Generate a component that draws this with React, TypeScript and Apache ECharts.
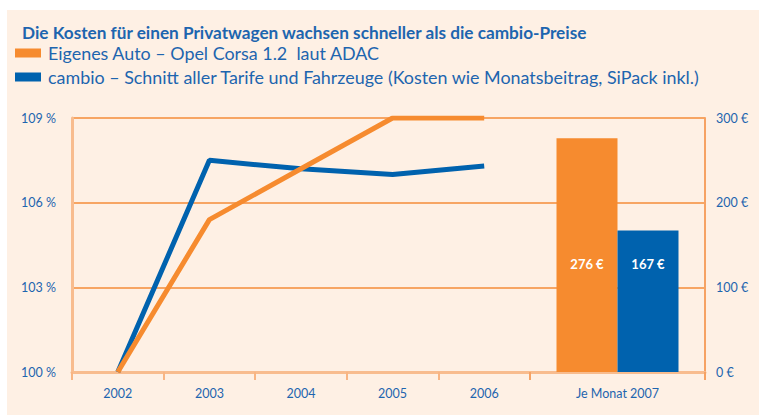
import React, { useEffect, useRef } from "react";
import * as echarts from "echarts";

const years = ["2002", "2003", "2004", "2005", "2006"];
const autoIndex = [100, 105.4, 107.2, 109.0, 109.0];
const cambioIndex = [100, 107.5, 107.2, 107.0, 107.3];
const monthCategory = ["Je Monat 2007"];
const autoMonthly = [276];
const cambioMonthly = [167];

const nameAuto = "Eigenes Auto \u2013 Opel Corsa 1.2  laut ADAC";
const nameCambio = "cambio \u2013 Schnitt aller Tarife und Fahrzeuge (Kosten wie Monatsbeitrag, SiPack inkl.)";

const ORANGE = "#F68B2F";
const BLUE = "#0062AE";
const TEXT = "#1D65AF";
const FONT = "Lato, 'Noto Sans', sans-serif";

export default function App() {
  const ref = useRef<HTMLDivElement>(null);
  useEffect(() => {
    const chart = echarts.init(ref.current!, null, { renderer: "svg" });
    const axisLabel = { color: TEXT, fontSize: 12.5, fontFamily: FONT };
    chart.setOption({
      animation: false,
      backgroundColor: "#FEF0E4",
      title: {
        text: "Die Kosten für einen Privatwagen wachsen schneller als die cambio-Preise",
        left: 15,
        top: 14,
        padding: 0,
        textStyle: { color: TEXT, fontSize: 17.2, fontWeight: "bold", fontFamily: FONT },
      },
      legend: {
        orient: "vertical",
        left: 8,
        top: 34,
        padding: 0,
        icon: "rect",
        itemWidth: 26,
        itemHeight: 9,
        itemGap: 6,
        data: [nameAuto, nameCambio],
        textStyle: { color: TEXT, fontSize: 17.9, lineHeight: 17, fontFamily: FONT, padding: [0, 0, 0, 2] },
      },
      grid: [
        { left: 65, top: 108, width: 458, height: 254 },
        { left: 523, top: 108, width: 175, height: 254 },
      ],
      xAxis: [
        {
          type: "category",
          gridIndex: 0,
          data: years,
          boundaryGap: true,
          axisLine: { lineStyle: { color: "#F8BC8E", width: 3 } },
          axisTick: { show: true, length: 8, interval: 0, lineStyle: { color: "#F8B583", width: 2 } },
          axisLabel: { ...axisLabel, margin: 15 },
        },
        {
          type: "category",
          gridIndex: 1,
          data: monthCategory,
          boundaryGap: true,
          axisLine: { lineStyle: { color: "#F8BC8E", width: 3 } },
          axisTick: { show: true, length: 8, interval: 0, lineStyle: { color: "#F6A263", width: 2 } },
          axisLabel: { ...axisLabel, margin: 15 },
        },
      ],
      yAxis: [
        {
          type: "value",
          gridIndex: 0,
          min: 100,
          max: 109,
          interval: 3,
          axisLine: { show: true, lineStyle: { color: "#F8BC8E", width: 3 } },
          axisTick: { show: false },
          axisLabel: { ...axisLabel, margin: 16, formatter: (v: number) => v + " %" },
          splitLine: { show: true, lineStyle: { color: "#F7A563", width: 2 } },
        },
        {
          type: "value",
          gridIndex: 1,
          position: "right",
          min: 0,
          max: 300,
          interval: 100,
          axisLine: { show: true, lineStyle: { color: "#F6A263", width: 2 } },
          axisTick: { show: false },
          axisLabel: { ...axisLabel, margin: 11, formatter: (v: number) => v + " €" },
          splitLine: { show: true, lineStyle: { color: "#F7A563", width: 2 } },
        },
      ],
      series: [
        {
          name: nameCambio,
          type: "line",
          xAxisIndex: 0,
          yAxisIndex: 0,
          data: cambioIndex,
          symbol: "none",
          color: BLUE,
          lineStyle: { color: BLUE, width: 5 },
          z: 3,
        },
        {
          name: nameAuto,
          type: "line",
          xAxisIndex: 0,
          yAxisIndex: 0,
          data: autoIndex,
          symbol: "none",
          color: ORANGE,
          lineStyle: { color: ORANGE, width: 5 },
          z: 4,
        },
        {
          name: nameAuto,
          type: "bar",
          xAxisIndex: 1,
          yAxisIndex: 1,
          data: autoMonthly,
          color: ORANGE,
          barWidth: 61,
          barGap: "0%",
          label: {
            show: true,
            position: "insideBottom",
            distance: 102,
            color: "#fff",
            fontWeight: "bold",
            fontSize: 13,
            fontFamily: FONT,
            formatter: (p: any) => p.value + " €",
          },
        },
        {
          name: nameCambio,
          type: "bar",
          xAxisIndex: 1,
          yAxisIndex: 1,
          data: cambioMonthly,
          color: BLUE,
          barWidth: 61,
          barGap: "0%",
          label: {
            show: true,
            position: "insideBottom",
            distance: 102,
            color: "#fff",
            fontWeight: "bold",
            fontSize: 13,
            fontFamily: FONT,
            formatter: (p: any) => p.value + " €",
          },
        },
      ],
    });
    return () => chart.dispose();
  }, []);
  return (
    <div
      ref={ref}
      style={{ position: "absolute", left: 7, top: 10, width: 752, height: 405 }}
    />
  );
}
